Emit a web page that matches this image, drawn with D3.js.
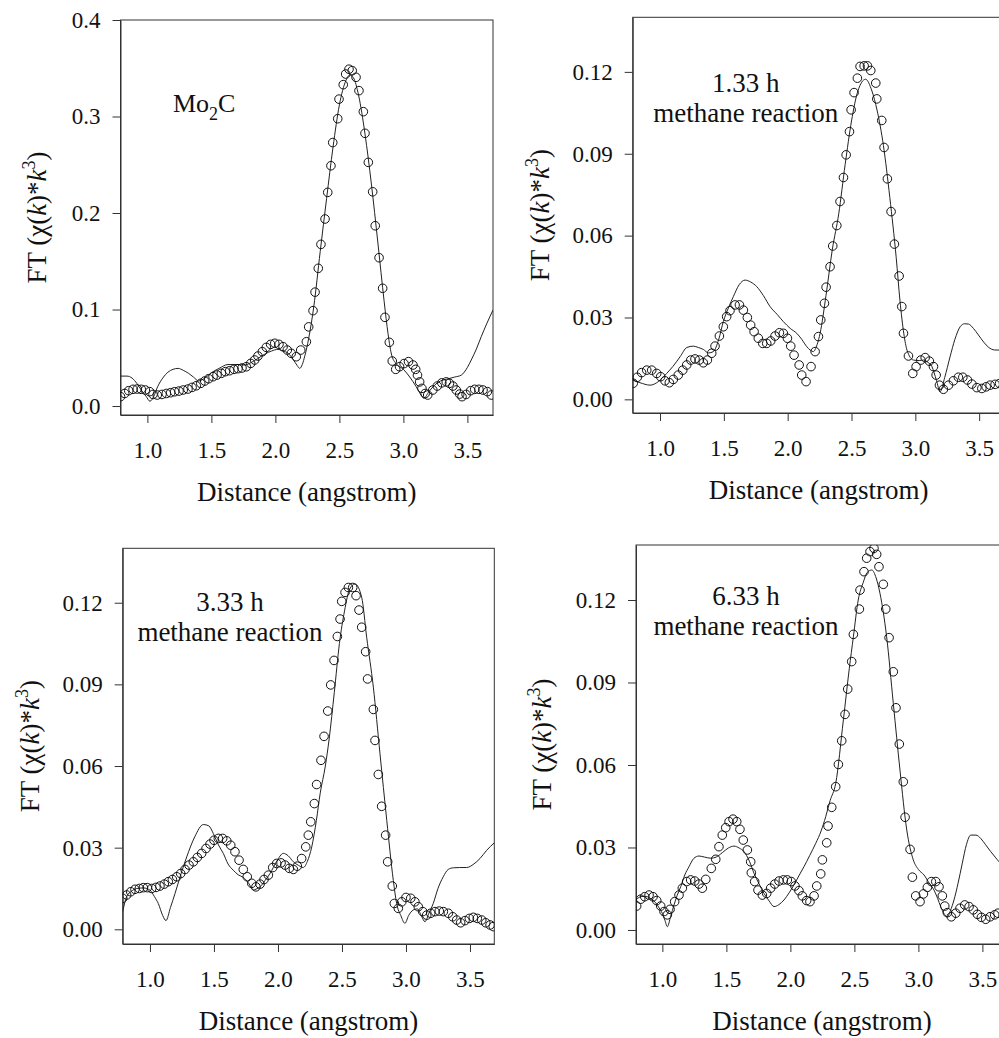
<html>
  <head>
    <script src="https://cdn.jsdelivr.net/npm/d3@7"></script>
    <style>
      body { margin: 0; background: #fff; }
      text { font-family: "Liberation Serif", "Times New Roman", serif; fill: #111; }
    </style>
  </head>
  <body>
    <div id="chart"></div>
    <script>
      // measured data (distance in angstrom, FT magnitude)
      // Mo2C
      let mo2cExp = [[0.79,0.0097],[0.823,0.013],[0.854,0.0159],[0.888,0.0173],[0.921,0.0176],[0.952,0.0173],[0.984,0.0166],[1.018,0.0149],[1.044,0.012],[1.077,0.0114],[1.114,0.012],[1.148,0.013],[1.182,0.0138],[1.213,0.0148],[1.247,0.0155],[1.28,0.0166],[1.317,0.0176],[1.349,0.0193],[1.382,0.021],[1.417,0.0235],[1.448,0.0259],[1.479,0.0283],[1.513,0.0304],[1.544,0.0321],[1.578,0.0339],[1.609,0.0356],[1.643,0.0366],[1.677,0.038],[1.708,0.0387],[1.739,0.0394],[1.773,0.0407],[1.807,0.0442],[1.838,0.0477],[1.864,0.0518],[1.898,0.0563],[1.929,0.0608],[1.963,0.0639],[1.995,0.065],[2.028,0.0639],[2.06,0.0615],[2.093,0.058],[2.124,0.0546],[2.163,0.0511],[2.198,0.058],[2.242,0.0666],[2.26,0.082],[2.294,0.0988],[2.31,0.118],[2.335,0.1427],[2.356,0.1675],[2.388,0.1938],[2.409,0.2214],[2.434,0.249],[2.448,0.273],[2.487,0.2977],[2.497,0.318],[2.53,0.333],[2.549,0.344],[2.575,0.349],[2.6,0.3475],[2.63,0.3406],[2.653,0.3268],[2.687,0.305],[2.7,0.2826],[2.726,0.2525],[2.76,0.222],[2.78,0.1868],[2.81,0.1537],[2.838,0.122],[2.856,0.0919],[2.89,0.066],[2.913,0.0466],[2.94,0.038],[2.97,0.0407],[3.005,0.044],[3.04,0.046],[3.075,0.0425],[3.096,0.038],[3.11,0.032],[3.127,0.025],[3.145,0.0183],[3.17,0.013],[3.19,0.0114],[3.23,0.0166],[3.265,0.0207],[3.3,0.024],[3.335,0.025],[3.36,0.0235],[3.387,0.0207],[3.413,0.0166],[3.44,0.0124],[3.458,0.0097],[3.49,0.012],[3.526,0.0159],[3.557,0.0173],[3.59,0.0173],[3.622,0.0166],[3.656,0.0149],[3.687,0.0114]];
      let mo2cFit = [[0.79,0.031],[0.84,0.031],[0.88,0.029],[0.92,0.023],[0.95,0.017],[0.99,0.01],[1.02,0.005],[1.05,0.01],[1.08,0.02],[1.12,0.029],[1.16,0.035],[1.2,0.038],[1.24,0.039],[1.28,0.037],[1.32,0.034],[1.36,0.03],[1.4,0.026],[1.45,0.029],[1.5,0.0345],[1.56,0.039],[1.63,0.043],[1.7,0.043],[1.76,0.0425],[1.81,0.045],[1.86,0.049],[1.92,0.054],[1.97,0.057],[2.02,0.0587],[2.06,0.057],[2.1,0.0546],[2.14,0.048],[2.17,0.042],[2.19,0.039],[2.21,0.043],[2.23,0.052],[2.26,0.07],[2.3,0.103],[2.35,0.16],[2.4,0.215],[2.45,0.268],[2.5,0.312],[2.55,0.337],[2.58,0.343],[2.61,0.34],[2.65,0.322],[2.7,0.282],[2.75,0.23],[2.8,0.17],[2.85,0.108],[2.88,0.075],[2.91,0.052],[2.95,0.043],[3.0,0.038],[3.05,0.03],[3.1,0.02],[3.13,0.013],[3.16,0.008],[3.2,0.015],[3.245,0.0218],[3.29,0.026],[3.335,0.0277],[3.4,0.03],[3.452,0.032],[3.5,0.04],[3.53,0.0477],[3.57,0.059],[3.608,0.0718],[3.65,0.085],[3.7,0.0995]];

      // 1.33 h methane reaction
      let h133Exp = [[0.79,0.0059],[0.822,0.0081],[0.856,0.0098],[0.896,0.0107],[0.935,0.0107],[0.974,0.0095],[1.005,0.0083],[1.039,0.0068],[1.073,0.0061],[1.104,0.0073],[1.143,0.0089],[1.178,0.0107],[1.209,0.0126],[1.241,0.0144],[1.274,0.0148],[1.308,0.0144],[1.339,0.0134],[1.371,0.0144],[1.405,0.0169],[1.431,0.0195],[1.465,0.0232],[1.496,0.0266],[1.522,0.0303],[1.548,0.0325],[1.588,0.0346],[1.622,0.0346],[1.653,0.0327],[1.684,0.03],[1.71,0.0272],[1.737,0.0248],[1.77,0.0224],[1.805,0.0205],[1.836,0.0205],[1.867,0.0214],[1.901,0.0232],[1.935,0.0244],[1.966,0.0242],[1.998,0.0224],[2.024,0.0195],[2.05,0.0162],[2.09,0.0126],[2.11,0.0089],[2.144,0.0065],[2.183,0.012],[2.215,0.0175],[2.241,0.023],[2.259,0.0291],[2.288,0.0352],[2.301,0.0411],[2.332,0.0486],[2.353,0.0562],[2.385,0.0637],[2.41,0.0725],[2.437,0.0813],[2.458,0.0896],[2.484,0.0981],[2.497,0.1061],[2.52,0.1124],[2.546,0.1177],[2.567,0.122],[2.599,0.1222],[2.625,0.1222],[2.651,0.1205],[2.69,0.1159],[2.698,0.1101],[2.737,0.1022],[2.755,0.0923],[2.781,0.0808],[2.81,0.0688],[2.836,0.0569],[2.873,0.0452],[2.894,0.034],[2.907,0.0242],[2.946,0.0159],[2.98,0.0095],[3.006,0.012],[3.043,0.0144],[3.077,0.0153],[3.11,0.014],[3.142,0.012],[3.163,0.0089],[3.189,0.0052],[3.22,0.0037],[3.26,0.0052],[3.298,0.0068],[3.337,0.0081],[3.372,0.0081],[3.408,0.0071],[3.443,0.0056],[3.482,0.0043],[3.521,0.004],[3.555,0.0046],[3.586,0.0052],[3.625,0.0055],[3.66,0.0058]];
      let h133Fit = [[0.78,0.0071],[0.843,0.0061],[0.922,0.0052],[0.987,0.0065],[1.052,0.0095],[1.1,0.012],[1.157,0.0156],[1.21,0.019],[1.261,0.0195],[1.3,0.019],[1.339,0.0183],[1.38,0.017],[1.418,0.0175],[1.46,0.022],[1.496,0.0285],[1.54,0.034],[1.574,0.0376],[1.62,0.042],[1.666,0.0437],[1.71,0.043],[1.758,0.0413],[1.81,0.038],[1.862,0.034],[1.92,0.031],[1.966,0.0285],[2.02,0.026],[2.071,0.0242],[2.11,0.022],[2.15,0.0193],[2.201,0.0175],[2.23,0.02],[2.254,0.0242],[2.3,0.038],[2.35,0.055],[2.4,0.068],[2.45,0.086],[2.5,0.102],[2.55,0.113],[2.61,0.1173],[2.66,0.113],[2.7,0.106],[2.75,0.093],[2.8,0.074],[2.85,0.052],[2.88,0.036],[2.91,0.024],[2.935,0.018],[2.985,0.0144],[3.03,0.0142],[3.063,0.0144],[3.1,0.0135],[3.13,0.012],[3.165,0.007],[3.194,0.0028],[3.23,0.008],[3.272,0.0156],[3.31,0.022],[3.351,0.0266],[3.385,0.0277],[3.416,0.0276],[3.455,0.026],[3.494,0.0236],[3.535,0.021],[3.573,0.0191],[3.62,0.0181],[3.7,0.018]];

      // 3.33 h methane reaction
      let h333Exp = [[0.787,0.0114],[0.818,0.0126],[0.85,0.0138],[0.883,0.0147],[0.917,0.015],[0.948,0.0153],[0.979,0.0153],[1.014,0.015],[1.047,0.0154],[1.078,0.0159],[1.112,0.0166],[1.143,0.0175],[1.175,0.0183],[1.209,0.0193],[1.24,0.0205],[1.274,0.022],[1.305,0.0236],[1.339,0.0248],[1.37,0.0264],[1.404,0.0279],[1.438,0.0297],[1.469,0.0313],[1.5,0.0327],[1.534,0.0334],[1.568,0.0334],[1.6,0.0325],[1.631,0.0309],[1.664,0.0285],[1.696,0.0254],[1.729,0.022],[1.76,0.0193],[1.795,0.0169],[1.828,0.0156],[1.86,0.0166],[1.891,0.0183],[1.925,0.0199],[1.959,0.0227],[1.99,0.0242],[2.024,0.0244],[2.055,0.0236],[2.089,0.0224],[2.12,0.022],[2.151,0.0232],[2.185,0.026],[2.217,0.0303],[2.237,0.0346],[2.256,0.0395],[2.284,0.0462],[2.302,0.0532],[2.336,0.0621],[2.36,0.0709],[2.389,0.0802],[2.412,0.0898],[2.438,0.0988],[2.464,0.1076],[2.485,0.114],[2.498,0.1205],[2.524,0.1238],[2.55,0.1256],[2.584,0.1256],[2.61,0.1226],[2.633,0.1173],[2.654,0.111],[2.685,0.102],[2.7,0.092],[2.745,0.0808],[2.758,0.0694],[2.784,0.0569],[2.81,0.0452],[2.841,0.0346],[2.857,0.0248],[2.893,0.0159],[2.909,0.0095],[2.94,0.0077],[2.967,0.0101],[3.0,0.0117],[3.037,0.0114],[3.07,0.0101],[3.096,0.0083],[3.131,0.0065],[3.162,0.0052],[3.193,0.0059],[3.227,0.0065],[3.26,0.0067],[3.292,0.0065],[3.331,0.0059],[3.365,0.0046],[3.396,0.0034],[3.427,0.0024],[3.461,0.0032],[3.495,0.004],[3.526,0.0044],[3.557,0.004],[3.592,0.0034],[3.623,0.0024],[3.657,0.0016],[3.682,0.001]];
      let h333Fit = [[0.787,0.0065],[0.818,0.012],[0.856,0.014],[0.896,0.015],[0.95,0.0152],[1.0,0.0144],[1.035,0.012],[1.065,0.0095],[1.1,0.005],[1.125,0.0032],[1.16,0.008],[1.196,0.0132],[1.24,0.02],[1.287,0.0266],[1.35,0.034],[1.417,0.0385],[1.46,0.038],[1.495,0.0352],[1.535,0.031],[1.573,0.0279],[1.61,0.024],[1.651,0.0217],[1.69,0.02],[1.729,0.0191],[1.77,0.017],[1.807,0.0144],[1.83,0.0148],[1.86,0.0156],[1.9,0.018],[1.938,0.0205],[1.99,0.025],[2.042,0.0279],[2.08,0.027],[2.12,0.0248],[2.16,0.0235],[2.198,0.0227],[2.23,0.025],[2.264,0.0303],[2.3,0.04],[2.33,0.05],[2.37,0.06],[2.4,0.07],[2.44,0.087],[2.48,0.105],[2.52,0.117],[2.56,0.125],[2.602,0.1269],[2.654,0.122],[2.693,0.1073],[2.745,0.089],[2.797,0.0645],[2.85,0.04],[2.901,0.018],[2.927,0.0095],[2.96,0.005],[2.992,0.0022],[3.02,0.005],[3.057,0.0071],[3.09,0.0075],[3.12,0.005],[3.148,0.0028],[3.18,0.006],[3.213,0.0095],[3.25,0.015],[3.291,0.0193],[3.33,0.022],[3.37,0.0226],[3.42,0.0227],[3.474,0.0227],[3.53,0.024],[3.578,0.026],[3.63,0.029],[3.69,0.0318]];

      // 6.33 h methane reaction
      let h633Exp = [[0.799,0.0087],[0.831,0.0112],[0.862,0.0121],[0.896,0.0127],[0.927,0.0121],[0.956,0.0107],[0.987,0.0087],[1.013,0.0067],[1.039,0.0055],[1.06,0.0075],[1.096,0.0103],[1.13,0.0127],[1.156,0.0152],[1.19,0.0176],[1.221,0.0182],[1.253,0.0178],[1.286,0.0167],[1.312,0.0152],[1.339,0.0184],[1.382,0.0224],[1.417,0.0257],[1.442,0.0303],[1.468,0.0345],[1.495,0.0372],[1.521,0.0394],[1.552,0.0403],[1.581,0.0394],[1.606,0.0366],[1.632,0.0327],[1.664,0.0291],[1.69,0.0248],[1.695,0.0208],[1.721,0.0176],[1.747,0.0145],[1.781,0.0127],[1.815,0.0133],[1.846,0.0152],[1.878,0.0167],[1.911,0.0178],[1.945,0.0182],[1.976,0.0182],[2.007,0.0176],[2.036,0.016],[2.067,0.0143],[2.093,0.0124],[2.127,0.0107],[2.153,0.0103],[2.185,0.0124],[2.206,0.016],[2.237,0.0204],[2.25,0.0255],[2.284,0.0317],[2.294,0.0378],[2.323,0.0446],[2.354,0.0521],[2.375,0.0602],[2.401,0.0688],[2.427,0.0784],[2.448,0.0876],[2.479,0.0976],[2.492,0.1075],[2.539,0.1167],[2.544,0.1236],[2.575,0.1303],[2.596,0.1352],[2.622,0.1376],[2.653,0.1388],[2.674,0.1366],[2.692,0.1321],[2.726,0.1257],[2.745,0.1167],[2.771,0.1063],[2.804,0.0939],[2.825,0.0808],[2.851,0.0676],[2.882,0.0539],[2.896,0.041],[2.935,0.0293],[2.953,0.0192],[2.979,0.0124],[3.013,0.0103],[3.039,0.0131],[3.07,0.0155],[3.101,0.0176],[3.136,0.0176],[3.161,0.0157],[3.187,0.0124],[3.206,0.0087],[3.226,0.0063],[3.257,0.0048],[3.292,0.0061],[3.325,0.0079],[3.362,0.0091],[3.396,0.0085],[3.429,0.0073],[3.461,0.0057],[3.492,0.0046],[3.526,0.0039],[3.56,0.0048],[3.596,0.0055],[3.622,0.0061]];
      let h633Fit = [[0.792,0.0109],[0.84,0.0122],[0.882,0.0121],[0.92,0.011],[0.948,0.0099],[0.975,0.008],[0.999,0.0061],[1.02,0.0035],[1.039,0.0012],[1.065,0.005],[1.091,0.0091],[1.115,0.0125],[1.143,0.0157],[1.175,0.02],[1.208,0.023],[1.245,0.026],[1.286,0.0269],[1.33,0.0265],[1.378,0.0261],[1.42,0.0265],[1.468,0.0281],[1.515,0.0298],[1.56,0.0305],[1.6,0.0298],[1.638,0.0285],[1.68,0.025],[1.716,0.0206],[1.755,0.0168],[1.794,0.0133],[1.835,0.0105],[1.872,0.0085],[1.91,0.0092],[1.95,0.0109],[1.99,0.0135],[2.028,0.0164],[2.07,0.02],[2.106,0.023],[2.15,0.027],[2.198,0.0315],[2.24,0.036],[2.276,0.0412],[2.31,0.047],[2.354,0.0533],[2.414,0.0764],[2.46,0.095],[2.492,0.1066],[2.53,0.12],[2.57,0.1265],[2.6,0.13],[2.636,0.1309],[2.67,0.128],[2.7,0.1224],[2.752,0.1066],[2.804,0.0824],[2.856,0.0582],[2.909,0.0364],[2.96,0.0255],[3.0,0.022],[3.044,0.02],[3.085,0.017],[3.122,0.0145],[3.15,0.0115],[3.174,0.0085],[3.2,0.006],[3.226,0.0048],[3.25,0.007],[3.278,0.0109],[3.31,0.017],[3.343,0.0243],[3.375,0.031],[3.409,0.0345],[3.45,0.0345],[3.487,0.0333],[3.525,0.031],[3.565,0.0285],[3.6,0.0265],[3.63,0.0248],[3.7,0.022]];

      // tick values
      let xTicks = [1.0, 1.5, 2.0, 2.5, 3.0, 3.5];
      let yTicksMo2c = [0.0, 0.1, 0.2, 0.3, 0.4];
      let yTicksReact = [0.0, 0.03, 0.06, 0.09, 0.12];

      // labels
      let panelLabels = [["Mo", "2", "C"], ["1.33 h", "methane reaction"], ["3.33 h", "methane reaction"], ["6.33 h", "methane reaction"]];

      // layout of the four panels (pixel boxes + axis ranges)
      let panels = [
        { exp: mo2cExp, fit: mo2cFit, label: panelLabels[0], left: 120.5, top: 20, w: 372.5, h: 395,
          xd: [0.79, 3.70], yd: [-0.0093, 0.4], yTicks: yTicksMo2c, fmt: ".1f", titleOff: 75, lx: 1.2, ly: 0.305 },
        { exp: h133Exp, fit: h133Fit, label: panelLabels[1], left: 632.7, top: 17.3, w: 372, h: 395.7,
          xd: [0.786, 3.70], yd: [-0.005, 0.14], yTicks: yTicksReact, fmt: ".2f", titleOff: 84, lx: 1.672, ly: 0.1128 },
        { exp: h333Exp, fit: h333Fit, label: panelLabels[2], left: 122.7, top: 548.3, w: 371.6, h: 395.7,
          xd: [0.787, 3.69], yd: [-0.0054, 0.14], yTicks: yTicksReact, fmt: ".2f", titleOff: 84, lx: 1.625, ly: 0.117 },
        { exp: h633Exp, fit: h633Fit, label: panelLabels[3], left: 636, top: 545, w: 372, h: 399,
          xd: [0.794, 3.70], yd: [-0.0051, 0.14], yTicks: yTicksReact, fmt: ".2f", titleOff: 85, lx: 1.653, ly: 0.118 },
      ];

      let svg = d3.select("#chart").append("svg")
        .attr("width", 999)
        .attr("height", 1038);

      panels.forEach(function (p, i) {
        let g = svg.append("g").attr("transform", "translate(" + p.left + "," + p.top + ")");

        let x = d3.scaleLinear().domain(p.xd).range([0, p.w]);
        let y = d3.scaleLinear().domain(p.yd).range([p.h, 0]);

        // clip
        g.append("defs").append("clipPath").attr("id", "clip" + i)
          .append("rect").attr("width", p.w).attr("height", p.h);

        // frame
        g.append("rect")
          .attr("width", p.w).attr("height", p.h)
          .attr("fill", "none").attr("stroke", "#333").attr("stroke-width", 1);

        let xAxis = d3.axisBottom(x).tickValues(xTicks).tickFormat(d3.format(".1f"))
          .tickSize(8).tickPadding(19).tickSizeOuter(0);
        let yAxis = d3.axisLeft(y).tickValues(p.yTicks).tickFormat(d3.format(p.fmt))
          .tickSize(8).tickPadding(12).tickSizeOuter(0);

        let xg = g.append("g").attr("transform", "translate(0," + p.h + ")").call(xAxis);
        let yg = g.append("g").call(yAxis);
        [xg, yg].forEach(function (a) {
          a.select(".domain").attr("stroke", "#333");
          a.selectAll(".tick line").attr("stroke", "#333");
          a.selectAll(".tick text").attr("font-size", 23).attr("fill", "#111")
            .style("font-family", "'Liberation Serif', 'Times New Roman', serif");
        });

        let plot = g.append("g").attr("clip-path", "url(#clip" + i + ")");

        let line = d3.line()
          .curve(d3.curveMonotoneX)
          .x((d) => x(d[0]))
          .y((d) => y(d[1]));

        plot.append("path")
          .datum(p.fit)
          .attr("d", line)
          .attr("fill", "none")
          .attr("stroke", "#222")
          .attr("stroke-width", 1);

        plot.selectAll("circle")
          .data(p.exp)
          .enter()
          .append("circle")
          .attr("cx", (d) => x(d[0]))
          .attr("cy", (d) => y(d[1]))
          .attr("r", 4.3)
          .attr("fill", "none")
          .attr("stroke", "#111")
          .attr("stroke-width", 1);

        // axis titles
        g.append("text")
          .attr("x", p.w / 2)
          .attr("y", p.h + 86)
          .attr("text-anchor", "middle")
          .attr("font-size", 27)
          .text("Distance (angstrom)");

        let yt = g.append("text")
          .attr("transform", "translate(" + (-p.titleOff) + "," + (p.h / 2) + ") rotate(-90)")
          .attr("text-anchor", "middle")
          .attr("font-size", 27);
        yt.append("tspan").text("FT (\u03C7(");
        yt.append("tspan").attr("font-style", "italic").text("k");
        yt.append("tspan").text(")*");
        yt.append("tspan").attr("font-style", "italic").text("k");
        yt.append("tspan").attr("font-size", 18).attr("dy", -11).text("3");
        yt.append("tspan").attr("dy", 11).text(")");

        // panel annotation
        if (i === 0) {
          let t = g.append("text")
            .attr("x", x(p.lx)).attr("y", y(p.ly))
            .attr("font-size", 26);
          t.append("tspan").text(p.label[0]);
          t.append("tspan").attr("font-size", 18).attr("dy", 8).text(p.label[1]);
          t.append("tspan").attr("dy", -8).text(p.label[2]);
        } else {
          g.append("text")
            .attr("x", x(p.lx)).attr("y", y(p.ly))
            .attr("text-anchor", "middle")
            .attr("font-size", 27)
            .text(p.label[0]);
          g.append("text")
            .attr("x", x(p.lx)).attr("y", y(p.ly) + 30)
            .attr("text-anchor", "middle")
            .attr("font-size", 27)
            .text(p.label[1]);
        }
      });
    </script>
  </body>
</html>
